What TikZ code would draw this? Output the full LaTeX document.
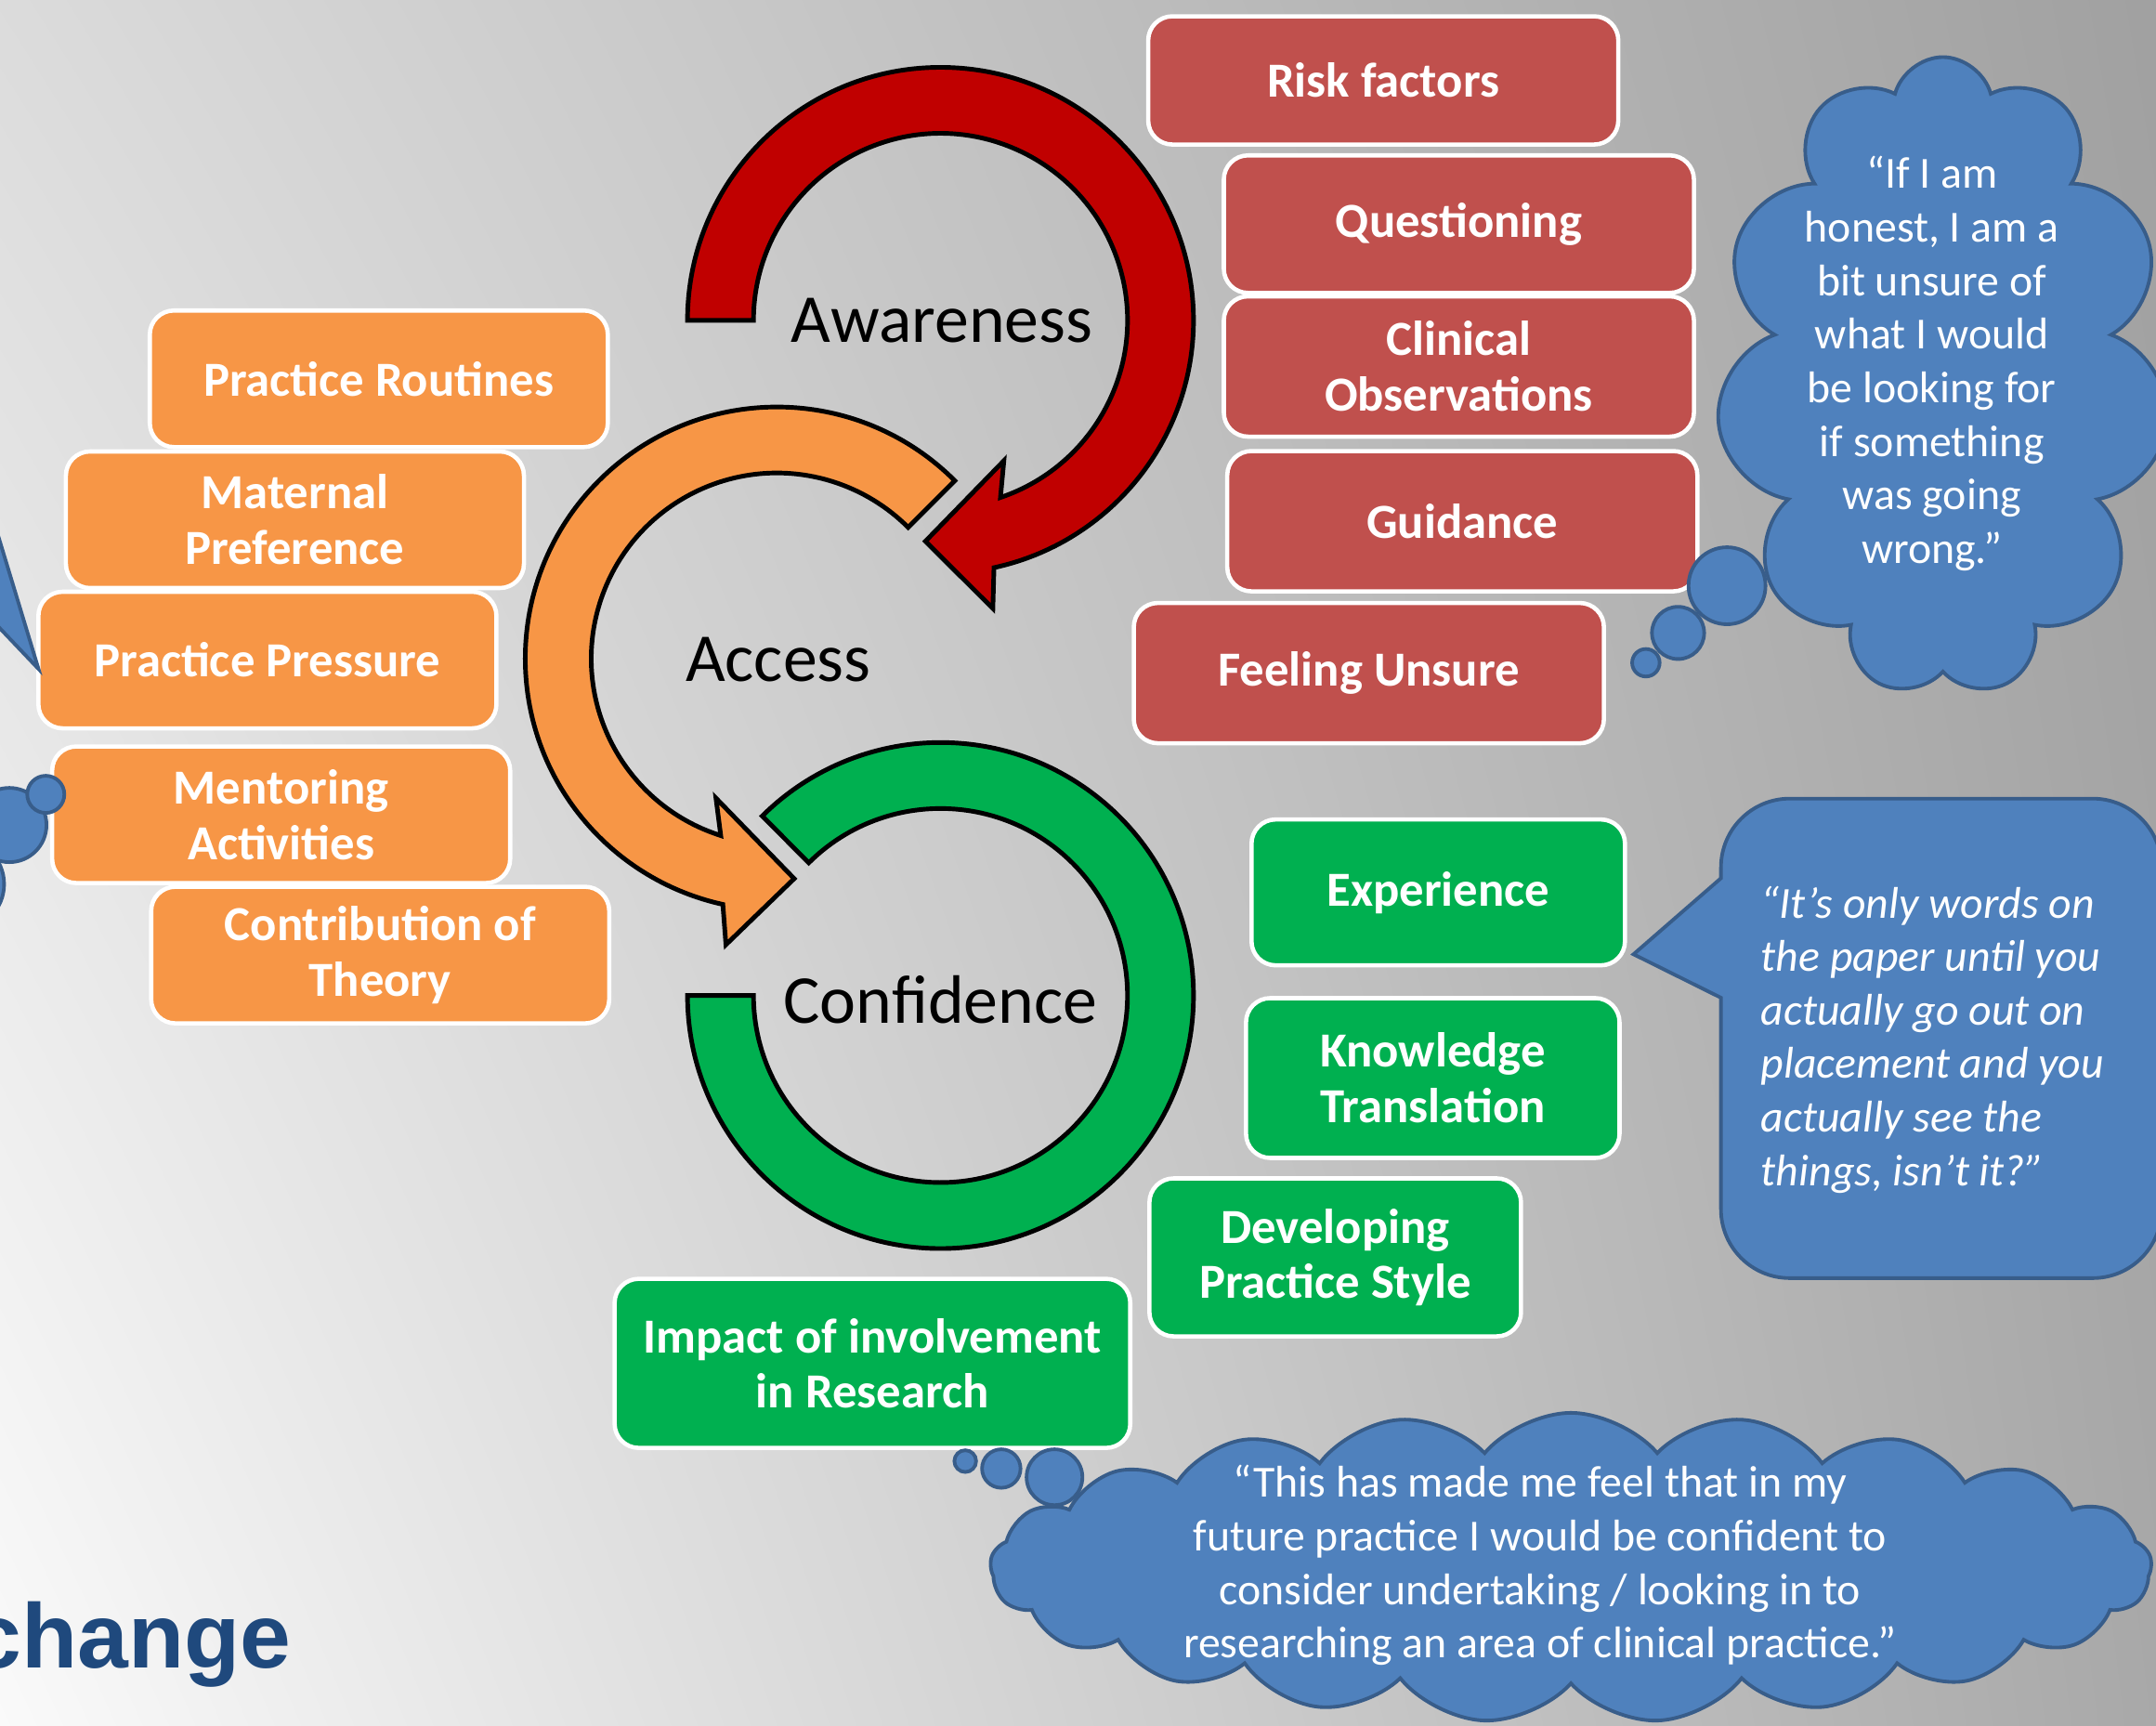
\documentclass[tikz,border=0pt]{standalone}
\usepackage{fontspec}
\setmainfont{Carlito}
\newfontfamily\arialfont{Liberation Sans}
\usepackage{tikz}
\usetikzlibrary{calc,positioning,shadings,shapes.symbols}
\definecolor{boxred}{HTML}{C0504D}
\definecolor{boxorange}{HTML}{F79646}
\definecolor{boxgreen}{HTML}{00B050}
\definecolor{ringred}{HTML}{C00000}
\definecolor{cloudblue}{HTML}{4F81BD}
\definecolor{cloudline}{HTML}{385D8A}
\definecolor{titleblue}{HTML}{1F497D}
\definecolor{bgul}{gray}{0.86}
\definecolor{bgur}{gray}{0.63}
\definecolor{bgll}{gray}{0.98}
\definecolor{bglr}{gray}{0.66}
\tikzset{%
	box/.style       = {draw=white, line width=1.3pt, rounded corners=2.6mm, text=white, align=center, font=\bfseries\fontsize{15}{17}\selectfont},
	redbox/.style    = {box, fill=boxred, minimum width=50.6mm, minimum height=15.1mm},
	orangebox/.style = {box, fill=boxorange, minimum width=49.3mm, minimum height=14.7mm},
	greenbox/.style  = {box, fill=boxgreen, minimum width=40.2mm, minimum height=15.7mm},
	ring/.style      = {draw=black, line width=1.4pt}, % Cycle arrow
	ringlabel/.style = {font=\fontsize{21}{25}\selectfont}, % Cycle stage
	thought/.style   = {cloud, cloud puffs=11, cloud ignores aspect, draw=cloudline, fill=cloudblue, line width=1.1pt},
	bubble/.style    = {draw=cloudline, fill=cloudblue, line width=1.1pt},
	quote/.style     = {text=white, align=center, font=\fontsize{13.6}{16.4}\selectfont},
}
\begin{document}
\begin{tikzpicture}[x=0.148mm, y=0.148mm, node distance=15mm]
	\useasboundingbox (0,0) rectangle (1568,1255);
	\clip (0,0) rectangle (1568,1255);
	\shade[upper left=bgul, upper right=bgur, lower left=bgll, lower right=bglr] (0,0) rectangle (1568,1255);

	% cycle
	\coordinate (awc) at (684,1022);
	\coordinate (acc) at (565,776);
	\coordinate (cfc) at (684,531);
	\draw[ring, fill=ringred] ($(awc)+(180:184)$) arc[start angle=180, end angle=-77.8, radius=184]
		-- ($(awc)+(-79.7:213)$) -- ($(awc)+(-93.9:161)$) -- ($(awc)+(-65.7:112)$) -- ($(awc)+(-71.3:136)$)
		arc[start angle=-71.3, end angle=180, radius=136] -- cycle;
	\draw[ring, fill=boxorange] ($(acc)+(45:183)$) arc[start angle=45, end angle=257.6, radius=183]
		-- ($(acc)+(259.9:211.3)$) -- ($(acc)+(274.5:160.5)$) -- ($(acc)+(246.4:110.7)$) -- ($(acc)+(252.4:135)$)
		arc[start angle=252.4, end angle=45, radius=135] -- cycle;
	\draw[ring, fill=boxgreen] ($(cfc)+(180:184)$) arc[start angle=180, end angle=494.8, radius=184]
		-- ($(cfc)+(134.8:136)$) arc[start angle=134.8, end angle=-180, radius=136] -- cycle;
	\node[ringlabel] (aware) at (685,1022) {Awareness};
	\node[ringlabel] (access) at (566,775) {Access};
	\node[ringlabel] (conf) at (684,528) {Confidence};

	% awareness themes
	\node[redbox, minimum height=13.8mm] (risk) at (1006,1196.5) {Risk factors};
	\node[redbox, below of=risk, node distance=15.47mm, xshift=8.14mm, minimum height=14.8mm] (quest) {Questioning};
	\node[redbox, below of=quest, node distance=15.32mm] (clin) {Clinical\\Observations};
	\node[redbox, below of=clin, node distance=16.65mm, xshift=0.37mm] (guid) {Guidance};
	\node[redbox, below of=guid, node distance=16.35mm, xshift=-10.06mm] (unsure) {Feeling Unsure};

	% access themes
	\node[orangebox] (routines) at (275.5,979.5) {Practice Routines};
	\node[orangebox, below of=routines, node distance=15.17mm, xshift=-9.03mm] (maternal) {Maternal\\Preference};
	\node[orangebox, below of=maternal, node distance=15.1mm, xshift=-2.96mm] (pressure) {Practice Pressure};
	\node[orangebox, below of=pressure, node distance=16.65mm, xshift=1.48mm] (mentor) {Mentoring\\Activities};
	\node[orangebox, below of=mentor, node distance=15.1mm, xshift=10.66mm] (theory) {Contribution of\\Theory};

	% confidence themes
	\node[greenbox] (exper) at (1046,606) {Experience};
	\node[greenbox, below of=exper, node distance=19.98mm, xshift=-0.59mm, minimum height=17.2mm] (know) {Knowledge\\Translation};
	\node[greenbox, below of=know, node distance=19.3mm, xshift=-10.5mm, minimum width=40mm, minimum height=17mm] (style) {Developing\\Practice Style};
	\node[greenbox, minimum width=55.5mm, minimum height=18.2mm] (impact) at (634.5,263.5) {Impact of involvement\\in Research};

	% quotes
	\node[thought, minimum width=48.8mm, minimum height=68.8mm] (honest) at (1413,981) {};
	\node[quote] (honesttext) at (1405,990.5) {“If I am\\honest, I am a\\bit unsure of\\what I would\\be looking for\\if something\\was going\\wrong.”};
	\draw[bubble] (1256,829) circle (28);
	\draw[bubble] (1220.4,794.7) circle (19);
	\draw[bubble] (1197,773) circle (10);

	\draw[bubble] (1251.6,616.3) -- (1251.6,624.2) arc[start angle=180, end angle=90, radius=50] -- (1522,674.2)
		arc[start angle=90, end angle=0, radius=50] -- (1572,375.5) arc[start angle=0, end angle=-90, radius=50]
		-- (1301.6,325.5) arc[start angle=270, end angle=180, radius=50] -- (1251.6,529.4) -- (1188,561) -- cycle;
	\node[quote, align=left, font=\itshape\fontsize{13.6}{16.4}\selectfont] (words) at (1405.5,499) {“It’s only words on\\the paper until you\\actually go out on\\placement and you\\actually see the\\things, isn’t it?”};

	\node[thought, cloud puffs=21, cloud puff arc=100, minimum width=125mm, minimum height=33.3mm] (research) at (1142.5,115) {};
	\node[quote] (researchtext) at (1120,116.5) {“This has made me feel that in my\\future practice I would be confident to\\consider undertaking / looking in to\\researching an area of clinical practice.”};
	\draw[bubble] (766.9,180.7) circle (20.3);
	\draw[bubble] (728.2,187) circle (14);
	\draw[bubble] (702,192.4) circle (7.9);

	% left edge
	\draw[bubble] (-10,894) -- (28,768.5) -- (-10,808.5) -- cycle;
	\draw[bubble] (-30,612) circle (33);
	\draw[bubble] (6.8,655) circle (27);
	\draw[bubble] (33.3,677.3) circle (13.5);
	\node[font=\arialfont\bfseries\fontsize{28}{34}\selectfont, text=titleblue, anchor=base east, inner sep=0pt] (change) at (212,42) {change};
\end{tikzpicture}
\end{document}
